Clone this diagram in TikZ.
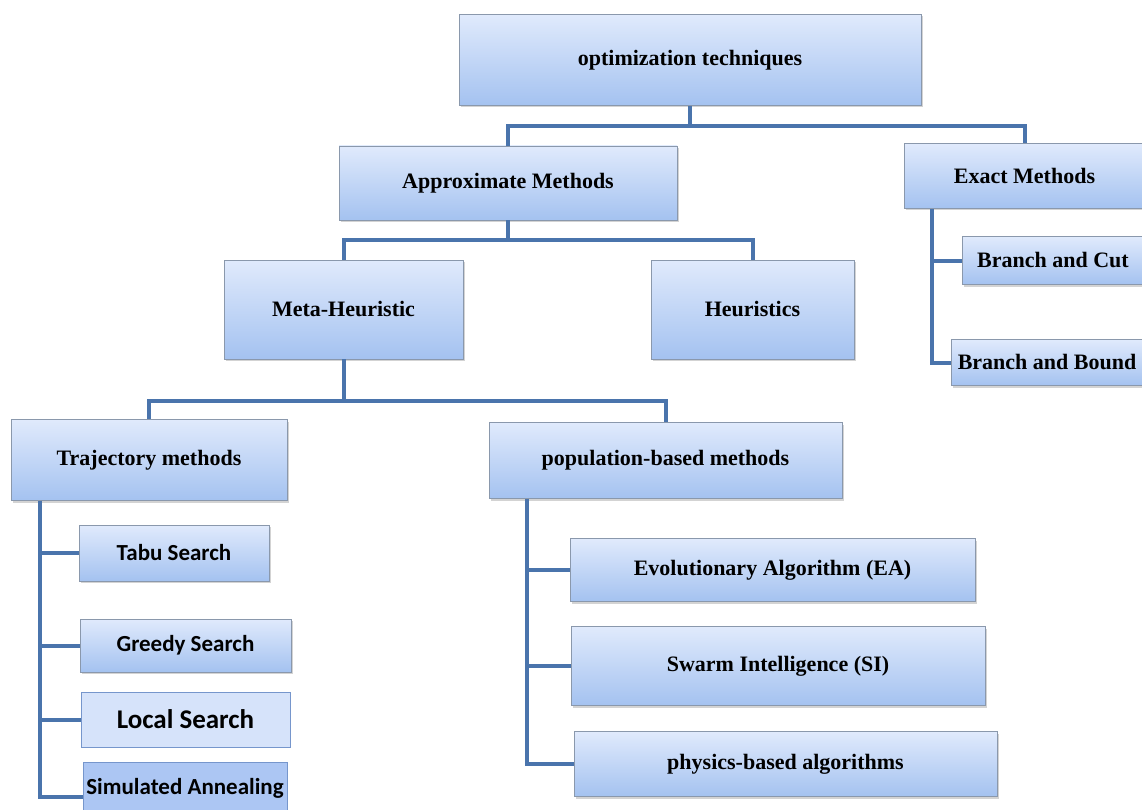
\documentclass[tikz,border=0pt]{standalone}
\usepackage{fontspec}
\setmainfont{Liberation Serif}
\newfontfamily\calfont{Carlito}
\usetikzlibrary{shadows}

\definecolor{boxtop}{RGB}{224,234,252}
\definecolor{boxbot}{RGB}{164,194,240}
\definecolor{boxline}{RGB}{138,152,172}
\definecolor{linkblue}{RGB}{74,116,172}
\definecolor{plainfill}{RGB}{214,227,250}
\definecolor{deepfill}{RGB}{172,198,243}
\definecolor{plainline}{RGB}{118,150,204}

\begin{document}
\begin{tikzpicture}[x=1pt, y=-1pt,
  every node/.style={font=\fontsize{22}{26}\selectfont\bfseries, inner sep=0pt},
  box/.style={draw=boxline, line width=0.8pt, top color=boxtop, bottom color=boxbot,
    drop shadow={shadow xshift=1.5pt, shadow yshift=-2pt, opacity=0.35}},
  flatbox/.style={draw=plainline, line width=0.8pt, fill=plainfill},
  deepbox/.style={draw=plainline, line width=0.8pt, fill=deepfill},
  link/.style={draw=linkblue, line width=4pt}]
\useasboundingbox (0,0) rectangle (1142,810);

\path (690,60) node[box, minimum width=462pt, minimum height=91pt] (opt) {optimization techniques};
\path (508,183) node[box, minimum width=338pt, minimum height=74pt] (appr) {Approximate Methods};
\path (1024.5,176) node[box, minimum width=241pt, minimum height=65pt] (exact) {Exact Methods};
\path (343.5,309.5) node[box, minimum width=239pt, minimum height=99pt] (meta) {Meta-Heuristic};
\path (752.5,309.5) node[box, minimum width=203pt, minimum height=99pt] (heur) {Heuristics};
\path (1053,260.5) node[box, minimum width=182pt, minimum height=48pt] (bcut) {Branch and Cut};
\path (1047,362.5) node[box, minimum width=192pt, minimum height=46pt] (bbound) {Branch and Bound};
\path (149,460) node[box, minimum width=276pt, minimum height=81pt] (traj) {Trajectory methods};
\path (665.5,460.5) node[box, minimum width=353pt, minimum height=76pt] (pop) {population-based methods};

% trajectory children
\path (174,553) node[box, font=\calfont\fontsize{23}{27}\selectfont\bfseries, minimum width=190pt, minimum height=56pt] (tabu) {Tabu Search};
\path (185.5,645.5) node[box, font=\calfont\fontsize{23}{27}\selectfont\bfseries, minimum width=211pt, minimum height=53pt] (greedy) {Greedy Search};
\path (185.5,719.5) node[flatbox, font=\calfont\fontsize{27}{31}\selectfont\bfseries, minimum width=209pt, minimum height=55pt] (local) {Local Search};
\path (185,788) node[deepbox, font=\calfont\fontsize{23}{27}\selectfont\bfseries, minimum width=204pt, minimum height=52pt] (sim) {Simulated Annealing};

% population children
\path (772.5,570) node[box, minimum width=405pt, minimum height=63pt] (ea) {Evolutionary Algorithm (EA)};
\path (778,666) node[box, minimum width=414pt, minimum height=79pt] (si) {Swarm Intelligence (SI)};
\path (785.5,764) node[box, minimum width=423pt, minimum height=65pt] (phys) {physics-based algorithms};

\draw[link] (opt.south) -- ++(0,20) -| (appr.north);
\draw[link] (opt.south) -- ++(0,20) -| (exact.north);
\draw[link] (appr.south) -- ++(0,20) -| (meta.north);
\draw[link] (appr.south) -- ++(0,20) -| (heur.north);
\draw[link] (meta.south) -- ++(0,42) -| (traj.north);
\draw[link] (meta.south) -- ++(0,42) -| (pop.north);

\draw[link] ([xshift=28pt]exact.south west) |- (bcut.west);
\draw[link] ([xshift=28pt]exact.south west) |- (bbound.west);

\draw[link] ([xshift=29pt]traj.south west) |- (tabu.west);
\draw[link] ([xshift=29pt]traj.south west) |- (greedy.west);
\draw[link] ([xshift=29pt]traj.south west) |- (local.west);
\draw[link] ([xshift=29pt]traj.south west) |- ([yshift=-9pt]sim.west);

\draw[link] ([xshift=38pt]pop.south west) |- (ea.west);
\draw[link] ([xshift=38pt]pop.south west) |- (si.west);
\draw[link] ([xshift=38pt]pop.south west) |- (phys.west);
\end{tikzpicture}
\end{document}
